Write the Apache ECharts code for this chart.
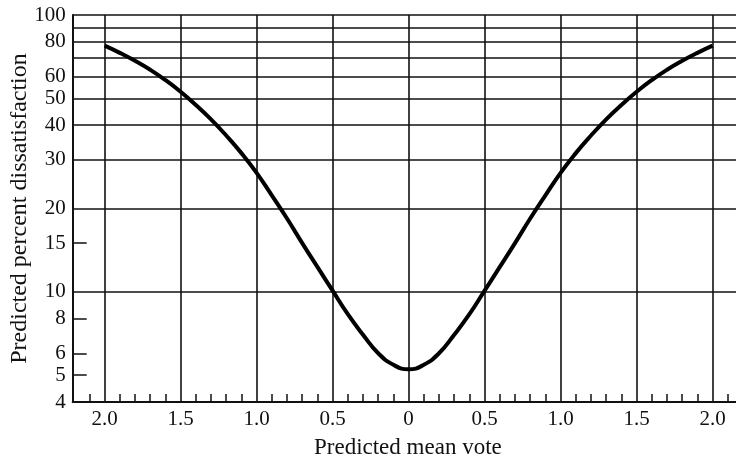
<!DOCTYPE html>
<html>
<head>
<meta charset="utf-8">
<title>PMV / PPD</title>
<script src="https://cdn.jsdelivr.net/npm/echarts@6/dist/echarts.min.js"></script>
<style>
  html, body { margin: 0; padding: 0; background: #fff; }
  #chart { width: 736px; height: 459px; }
</style>
</head>
<body>
<div id="chart"></div>
<script>
// values
const pmv = [-2.0, -1.9, -1.8, -1.7, -1.6, -1.5, -1.4, -1.3, -1.2, -1.1, -1.0,
             -0.9, -0.8, -0.7, -0.6, -0.5, -0.4, -0.3, -0.2, -0.1, 0,
             0.1, 0.2, 0.3, 0.4, 0.5, 0.6, 0.7, 0.8, 0.9, 1.0,
             1.1, 1.2, 1.3, 1.4, 1.5, 1.6, 1.7, 1.8, 1.9, 2.0];
const ppd = [77.5, 73.0, 68.3, 63.4, 58.2, 52.8, 47.3, 42.0, 36.7, 31.7, 26.9,
             22.3, 18.4, 15.0, 12.3, 10.1, 8.3, 7.0, 6.0, 5.45, 5.25,
             5.45, 6.0, 7.0, 8.3, 10.1, 12.3, 15.0, 18.4, 22.3, 26.9,
             31.7, 36.7, 42.0, 47.3, 52.8, 58.2, 63.4, 68.3, 73.0, 77.5];

const xMajor = [-2.0, -1.5, -1.0, -0.5, 0, 0.5, 1.0, 1.5, 2.0];
const xMinor = [-2.1, -1.9, -1.8, -1.7, -1.6, -1.4, -1.3, -1.2, -1.1, -0.9, -0.8, -0.7, -0.6,
                -0.4, -0.3, -0.2, -0.1, 0.1, 0.2, 0.3, 0.4, 0.6, 0.7, 0.8, 0.9,
                1.1, 1.2, 1.3, 1.4, 1.6, 1.7, 1.8, 1.9, 2.1];
const yGrid = [10, 20, 30, 40, 50, 60, 70, 80, 90, 100];
const yLabels = [4, 5, 6, 8, 10, 15, 20, 30, 40, 50, 60, 80, 100];
const yTicks = [5, 6, 8, 15];

const ink = '#111';
const font = '"Liberation Serif", "DejaVu Serif", serif';

const chart = echarts.init(document.getElementById('chart'));
chart.setOption({
  animation: false,
  backgroundColor: '#fff',
  textStyle: { fontFamily: font, color: ink },
  grid: { left: 72.7, right: -7, top: 15, bottom: 57, outerBoundsMode: 'none', containLabel: false },
  xAxis: [{
    type: 'value', min: -2.21, max: 2.2, position: 'bottom',
    name: 'Predicted mean vote', nameLocation: 'middle', nameGap: 34,
    nameTextStyle: { fontFamily: font, fontSize: 23, color: ink },
    axisLine: { show: true, onZero: false, lineStyle: { color: ink, width: 2 } },
    axisTick: { show: false, customValues: xMajor },
    axisLabel: { customValues: xMajor, margin: 7, fontFamily: font, fontSize: 21, color: ink,
      formatter: v => v === 0 ? '0' : Math.abs(v).toFixed(1) },
    splitLine: { show: true, lineStyle: { color: ink, width: 1.6 } }
  }, {
    type: 'value', min: -2.21, max: 2.2, position: 'bottom',
    axisLine: { show: false, onZero: false },
    axisTick: { show: true, inside: true, length: 8, customValues: xMinor, lineStyle: { color: ink, width: 1.5 } },
    axisLabel: { show: false },
    splitLine: { show: false }
  }],
  yAxis: [{
    type: 'log', logBase: 10, min: 4, max: 100, position: 'left',
    name: 'Predicted percent dissatisfaction', nameLocation: 'middle', nameGap: 41,
    nameTextStyle: { fontFamily: font, fontSize: 24, color: ink },
    axisLine: { show: true, onZero: false, lineStyle: { color: ink, width: 2 } },
    axisTick: { show: false, customValues: yGrid },
    axisLabel: { show: false },
    splitLine: { show: true, lineStyle: { color: ink, width: 1.6 } }
  }, {
    type: 'log', logBase: 10, min: 4, max: 100, position: 'left',
    axisLine: { show: false, onZero: false },
    axisTick: { show: true, inside: true, length: 14, customValues: yTicks, lineStyle: { color: ink, width: 1.5 } },
    axisLabel: { customValues: yLabels, margin: 7, fontFamily: font, fontSize: 21, color: ink },
    splitLine: { show: false }
  }],
  series: [{
    type: 'line',
    data: pmv.map((x, i) => [x, ppd[i]]),
    smooth: 0.5,
    showSymbol: false,
    lineStyle: { color: '#000', width: 4 }
  }]
});
</script>
</body>
</html>
